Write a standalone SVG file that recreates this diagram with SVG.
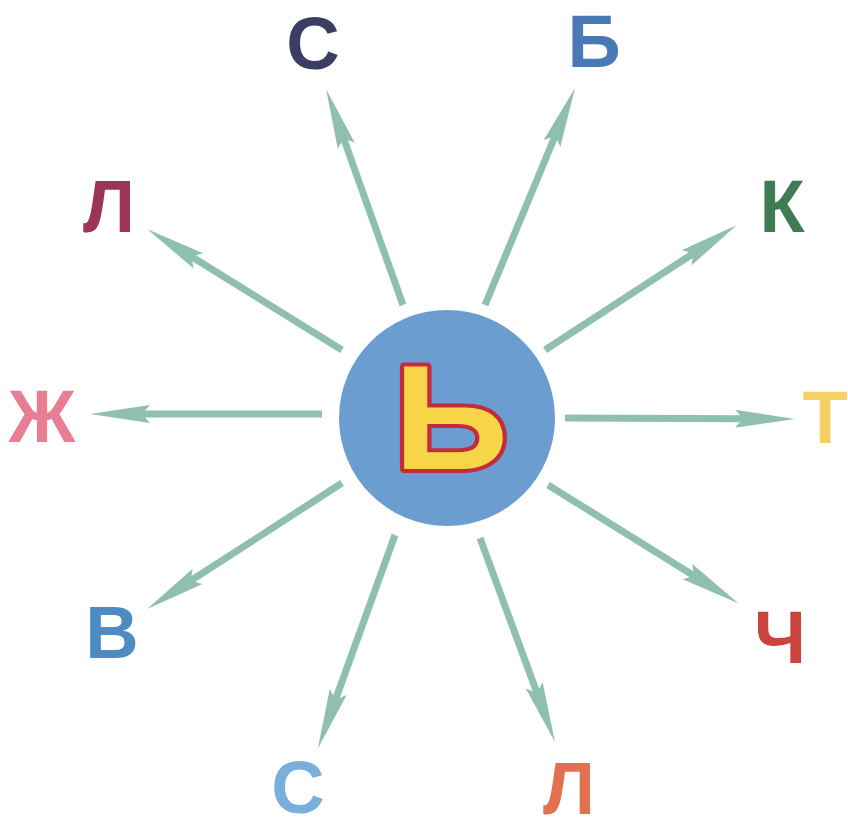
<svg xmlns="http://www.w3.org/2000/svg" width="848" height="830" viewBox="0 0 848 830">
<style>
.l{font-family:"Liberation Sans",Arial,sans-serif;font-weight:bold;font-size:74px;text-anchor:middle}
.a{fill:#8fbfae}
</style>
<rect width="848" height="830" fill="#ffffff"/>
<g id="connectors">
<path class="a" transform="translate(403,305) rotate(-109.62)" d="M0,-3.5 H174 L169,-9 L229,0 L169,9 L174,3.5 H0 Z"/>
<path class="a" transform="translate(485,305) rotate(-67.48)" d="M0,-3.5 H180 L175,-9 L235,0 L175,9 L180,3.5 H0 Z"/>
<path class="a" transform="translate(545,350) rotate(-33.07)" d="M0,-3.5 H174 L169,-9 L229,0 L169,9 L174,3.5 H0 Z"/>
<path class="a" transform="translate(342,350) rotate(-148.18)" d="M0,-3.5 H174 L169,-9 L229,0 L169,9 L174,3.5 H0 Z"/>
<path class="a" transform="translate(322,414) rotate(180)" d="M0,-3.5 H177 L172,-9 L232,0 L172,9 L177,3.5 H0 Z"/>
<path class="a" transform="translate(565,418) rotate(0.25)" d="M0,-3.5 H175 L170,-9 L230,0 L170,9 L175,3.5 H0 Z"/>
<path class="a" transform="translate(342,483) rotate(147.13)" d="M0,-3.5 H177 L172,-9 L232,0 L172,9 L177,3.5 H0 Z"/>
<path class="a" transform="translate(548,485) rotate(31.84)" d="M0,-3.5 H169 L164,-9 L224,0 L164,9 L169,3.5 H0 Z"/>
<path class="a" transform="translate(395,535) rotate(109.87)" d="M0,-3.5 H172 L167,-9 L227,0 L167,9 L172,3.5 H0 Z"/>
<path class="a" transform="translate(480,538) rotate(69.81)" d="M0,-3.5 H162 L157,-9 L217,0 L157,9 L162,3.5 H0 Z"/>
</g>
<g id="center">
<circle cx="447" cy="418" r="108" fill="#6b9dd0"/>
<text x="451" y="469" transform="translate(451,0) scale(1.08,1) translate(-451,0)" font-family="Liberation Sans,Arial,sans-serif" font-weight="bold" font-size="148" text-anchor="middle" fill="#f7d448" stroke="#c42c3e" stroke-width="8" stroke-linejoin="round" paint-order="stroke">Ь</text>
</g>
<g id="n-s-top"><text class="l" x="313" y="69" fill="#3b3d62">С</text></g>
<g id="n-b"><text class="l" x="594" y="67" fill="#4a79b8">Б</text></g>
<g id="n-k"><text class="l" x="782" y="232" fill="#3f7b55">К</text></g>
<g id="n-l-top"><text class="l" x="109" y="232" fill="#9b3458">Л</text></g>
<g id="n-zh"><text class="l" x="42" y="442" fill="#e77e93">Ж</text></g>
<g id="n-t"><text class="l" x="825" y="443" fill="#f5d064">Т</text></g>
<g id="n-v"><text class="l" x="112" y="658" fill="#4d8bc2">В</text></g>
<g id="n-ch"><text class="l" x="780" y="663" fill="#c9443f">Ч</text></g>
<g id="n-s-bottom"><text class="l" x="298" y="813" fill="#7aaedc">С</text></g>
<g id="n-l-bottom"><text class="l" x="569" y="814" fill="#e27152">Л</text></g>
</svg>
